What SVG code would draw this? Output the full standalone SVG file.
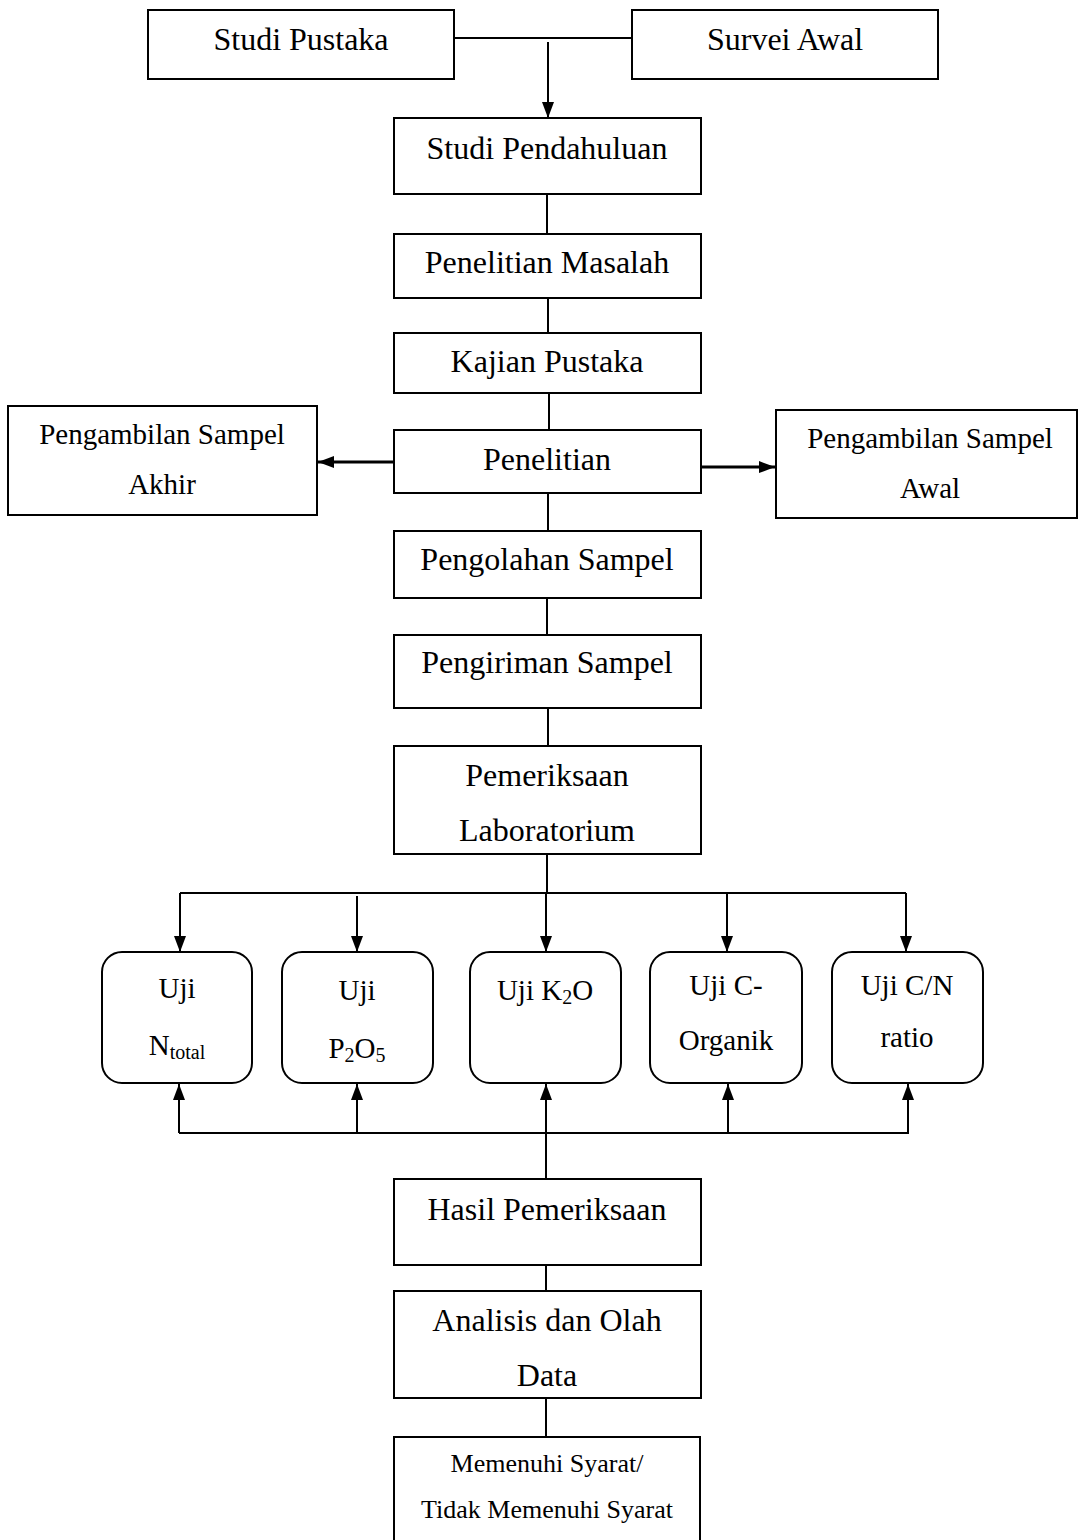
<svg xmlns="http://www.w3.org/2000/svg" width="1079" height="1540" viewBox="0 0 1079 1540">
<style>
.box{fill:#fff;stroke:#000;stroke-width:2}
.t{font-family:"Liberation Serif","Times New Roman",serif;font-size:32px;fill:#000;text-anchor:middle}
.s{font-size:29px}
.xs{font-size:26px}
.sub{font-size:20px}
.ln{stroke:#000;stroke-width:2;fill:none}
.ar{stroke:#000;stroke-width:2;fill:none;marker-end:url(#ah)}
.arh{stroke:#000;stroke-width:3;fill:none;marker-end:url(#ah)}
</style>
<defs>
<marker id="ah" markerUnits="userSpaceOnUse" markerWidth="16" markerHeight="12" refX="16" refY="6" orient="auto">
<path d="M0,0 L16,6 L0,12 z" fill="#000"/>
</marker>
</defs>
<rect width="1079" height="1540" fill="#fff"/>
<g id="connectors">
<line class="ln" x1="454" y1="38" x2="632" y2="38"/>
<line class="ar" x1="548" y1="42" x2="548" y2="118"/>
<line class="ln" x1="547" y1="194" x2="547" y2="234"/>
<line class="ln" x1="548" y1="298" x2="548" y2="333"/>
<line class="ln" x1="549" y1="393" x2="549" y2="430"/>
<line class="arh" x1="394" y1="462" x2="318" y2="462"/>
<line class="arh" x1="701" y1="467" x2="775" y2="467"/>
<line class="ln" x1="548" y1="493" x2="548" y2="531"/>
<line class="ln" x1="547" y1="598" x2="547" y2="635"/>
<line class="ln" x1="548" y1="708" x2="548" y2="746"/>
<line class="ln" x1="547" y1="854" x2="547" y2="893"/>
<line class="ln" x1="180" y1="893" x2="906" y2="893"/>
<line class="ar" x1="180" y1="893" x2="180" y2="952"/>
<line class="ar" x1="357" y1="896" x2="357" y2="952"/>
<line class="ar" x1="546" y1="893" x2="546" y2="952"/>
<line class="ar" x1="727" y1="893" x2="727" y2="952"/>
<line class="ar" x1="906" y1="893" x2="906" y2="952"/>
<line class="ln" x1="179" y1="1133" x2="909" y2="1133"/>
<line class="ar" x1="179" y1="1133" x2="179" y2="1084"/>
<line class="ar" x1="357" y1="1133" x2="357" y2="1084"/>
<line class="ar" x1="546" y1="1133" x2="546" y2="1084"/>
<line class="ar" x1="728" y1="1133" x2="728" y2="1084"/>
<line class="ar" x1="908" y1="1133" x2="908" y2="1084"/>
<line class="ln" x1="546" y1="1133" x2="546" y2="1179"/>
<line class="ln" x1="546" y1="1265" x2="546" y2="1291"/>
<line class="ln" x1="546" y1="1398" x2="546" y2="1437"/>
</g>
<g id="studi-pustaka"><rect class="box" x="148" y="10" width="306" height="69"/><text class="t" x="301" y="50">Studi Pustaka</text></g>
<g id="survei-awal"><rect class="box" x="632" y="10" width="306" height="69"/><text class="t" x="785" y="50">Survei Awal</text></g>
<g id="studi-pendahuluan"><rect class="box" x="394" y="118" width="307" height="76"/><text class="t" x="547" y="159">Studi Pendahuluan</text></g>
<g id="penelitian-masalah"><rect class="box" x="394" y="234" width="307" height="64"/><text class="t" x="547" y="273">Penelitian Masalah</text></g>
<g id="kajian-pustaka"><rect class="box" x="394" y="333" width="307" height="60"/><text class="t" x="547" y="372">Kajian Pustaka</text></g>
<g id="penelitian"><rect class="box" x="394" y="430" width="307" height="63"/><text class="t" x="547" y="470">Penelitian</text></g>
<g id="sampel-akhir"><rect class="box" x="8" y="406" width="309" height="109"/><text class="t s" x="162" y="444">Pengambilan Sampel</text><text class="t s" x="162" y="494">Akhir</text></g>
<g id="sampel-awal"><rect class="box" x="776" y="410" width="301" height="108"/><text class="t s" x="930" y="448">Pengambilan Sampel</text><text class="t s" x="930" y="498">Awal</text></g>
<g id="pengolahan-sampel"><rect class="box" x="394" y="531" width="307" height="67"/><text class="t" x="547" y="570">Pengolahan Sampel</text></g>
<g id="pengiriman-sampel"><rect class="box" x="394" y="635" width="307" height="73"/><text class="t" x="547" y="673">Pengiriman Sampel</text></g>
<g id="pemeriksaan-lab"><rect class="box" x="394" y="746" width="307" height="108"/><text class="t" x="547" y="786">Pemeriksaan</text><text class="t" x="547" y="841">Laboratorium</text></g>
<g id="uji-ntotal"><rect class="box" x="102" y="952" width="150" height="131" rx="20"/><text class="t s" x="177" y="998">Uji</text><text class="t s" x="177" y="1055">N<tspan class="sub" dy="4">total</tspan></text></g>
<g id="uji-p2o5"><rect class="box" x="282" y="952" width="151" height="131" rx="20"/><text class="t s" x="357" y="1000">Uji</text><text class="t s" x="357" y="1058">P<tspan class="sub" dy="4">2</tspan><tspan dy="-4">O</tspan><tspan class="sub" dy="4">5</tspan></text></g>
<g id="uji-k2o"><rect class="box" x="470" y="952" width="151" height="131" rx="20"/><text class="t s" x="545" y="1000">Uji K<tspan class="sub" dy="4">2</tspan><tspan dy="-4">O</tspan></text></g>
<g id="uji-c-organik"><rect class="box" x="650" y="952" width="152" height="131" rx="20"/><text class="t s" x="726" y="995">Uji C-</text><text class="t s" x="726" y="1050">Organik</text></g>
<g id="uji-cn-ratio"><rect class="box" x="832" y="952" width="151" height="131" rx="20"/><text class="t s" x="907" y="995">Uji C/N</text><text class="t s" x="907" y="1047">ratio</text></g>
<g id="hasil-pemeriksaan"><rect class="box" x="394" y="1179" width="307" height="86"/><text class="t" x="547" y="1220">Hasil Pemeriksaan</text></g>
<g id="analisis-olah-data"><rect class="box" x="394" y="1291" width="307" height="107"/><text class="t" x="547" y="1331">Analisis dan Olah</text><text class="t" x="547" y="1386">Data</text></g>
<g id="memenuhi-syarat"><rect class="box" x="394" y="1437" width="306" height="110"/><text class="t xs" x="547" y="1472">Memenuhi Syarat/</text><text class="t xs" x="547" y="1518">Tidak Memenuhi Syarat</text></g>
</svg>
